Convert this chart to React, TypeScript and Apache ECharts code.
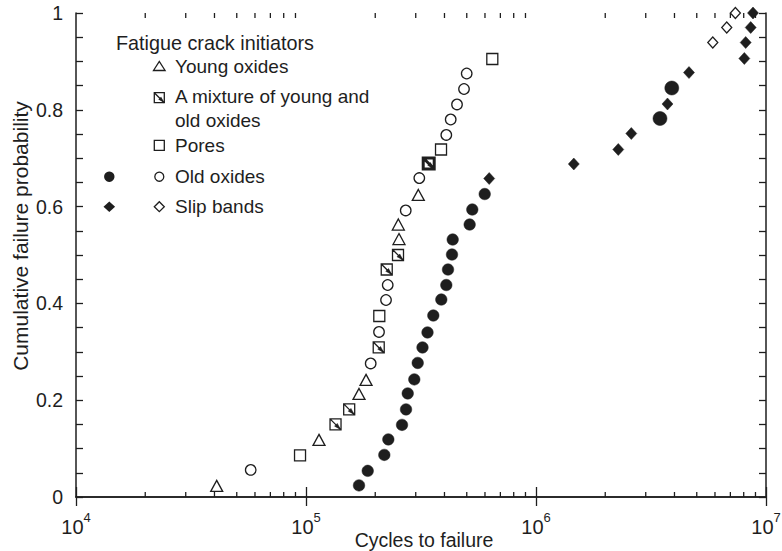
import React, { useEffect, useRef } from 'react';
import * as echarts from 'echarts';

// ---- Data (cycles to failure, cumulative failure probability) ----
const youngOxides: number[][] = [
  [40900, 0.023], [113900, 0.118], [170000, 0.213], [182400, 0.242],
  [253700, 0.533], [252000, 0.563], [307800, 0.624],
];
const mixedOxides: number[][] = [
  [134400, 0.150], [154100, 0.181], [207100, 0.309], [224400, 0.470],
  [251200, 0.500], [341600, 0.689],
];
const boldMixedIndex = 5;
const pores: number[][] = [
  [94200, 0.086], [208300, 0.374], [386400, 0.718], [645700, 0.905],
];
const oldOxidesOpen: number[][] = [
  [57500, 0.056], [191100, 0.276], [207700, 0.341], [222800, 0.407],
  [226600, 0.438], [271400, 0.592], [310900, 0.659], [407400, 0.748],
  [425700, 0.780], [453500, 0.811], [486400, 0.843], [499700, 0.875],
];
const slipBandsOpen: number[][] = [
  [5870000, 0.939], [6750000, 0.970], [7360000, 1.0],
];
const oldOxidesFilled: number[][] = [
  [170000, 0.024], [185500, 0.054], [219000, 0.087], [228000, 0.119],
  [261500, 0.149], [272200, 0.181], [276900, 0.214], [295700, 0.243],
  [306000, 0.277], [321000, 0.309], [337500, 0.340], [357700, 0.375],
  [387500, 0.408], [407400, 0.438], [414400, 0.470], [431300, 0.501],
  [434300, 0.532], [514700, 0.563], [528400, 0.594], [598400, 0.626],
];
const oldOxidesFilledLarge: number[][] = [
  [3460000, 0.782], [3894000, 0.845],
];
const slipBandsFilled: number[][] = [
  [625900, 0.658], [1460000, 0.688], [2279000, 0.718], [2596000, 0.751],
  [3730000, 0.812], [4626000, 0.877], [8050000, 0.906], [8160000, 0.939],
  [8580000, 0.970], [8780000, 1.0],
];

// axis ticks
const xMin = 1e4;
const xMax = 1e7;
const minorMantissas = [2, 3, 4, 5, 6, 7, 8, 9];
const minorDecades = [1e4, 1e5, 1e6];
const yTickInterval = 0.2;

const FONT = '"Liberation Sans", Arial, Helvetica, sans-serif';
const INK = '#1e1e1e';

const minorTickData: number[][] = [];
minorDecades.forEach((d) => minorMantissas.forEach((m) => minorTickData.push([m * d, 0])));

const openStyle = { color: '#ffffff', borderColor: INK, borderWidth: 1.3, opacity: 1 };
const filledStyle = { color: INK, borderColor: INK, borderWidth: 0.5, opacity: 1 };

export default function App() {
  const ref = useRef<HTMLDivElement>(null);
  useEffect(() => {
    const chart = echarts.init(ref.current!, null, { renderer: 'svg' });
    const axisLine = { show: true, lineStyle: { color: INK, width: 1.5 } };
    const tickStyle = { color: INK, width: 1.3 };
    const legendText = (text: string, x: number, y: number, size = 19) => ({
      type: 'text', x, y,
      style: { text, fontFamily: FONT, fontSize: size, fill: INK, verticalAlign: 'middle' },
    });
    const option: any = {
      animation: false,
      backgroundColor: '#ffffff',
      grid: { left: 76, right: 16, top: 13, bottom: 54, containLabel: false, outerBoundsMode: 'none' },
      xAxis: [
        {
          type: 'log', logBase: 10, min: xMin, max: xMax, position: 'bottom',
          axisLine, splitLine: { show: false },
          axisTick: { inside: true, length: 10, lineStyle: tickStyle },
          axisLabel: {
            margin: 14,
            formatter: (v: number) => `{b|10}{s|${Math.round(Math.log10(v))}}`,
            rich: {
              b: { fontFamily: FONT, fontSize: 20, color: INK, lineHeight: 26, verticalAlign: 'bottom' },
              s: { fontFamily: FONT, fontSize: 13, color: INK, lineHeight: 14, verticalAlign: 'top' },
            },
          },
        },
        {
          type: 'log', logBase: 10, min: xMin, max: xMax, position: 'top',
          axisLine, splitLine: { show: false },
          axisTick: { inside: true, length: 9, lineStyle: tickStyle },
          axisLabel: { show: false },
        },
      ],
      yAxis: [
        {
          type: 'value', min: 0, max: 1, interval: yTickInterval,
          axisLine, splitLine: { show: false }, minorSplitLine: { show: false },
          axisTick: { inside: true, length: 7, lineStyle: tickStyle },
          minorTick: { show: true, splitNumber: 4, length: 7, lineStyle: tickStyle },
          axisLabel: {
            margin: 13, fontFamily: FONT, fontSize: 19.5, color: INK,
            formatter: (v: number) => (v === 0 ? '0' : v === 1 ? '1' : v.toFixed(1)),
          },
        },
        {
          type: 'value', min: 0, max: 1, interval: yTickInterval, position: 'right',
          axisLine, splitLine: { show: false }, minorSplitLine: { show: false },
          axisTick: { inside: true, length: 7, lineStyle: tickStyle },
          minorTick: { show: true, splitNumber: 4, length: 7, lineStyle: tickStyle },
          axisLabel: { show: false },
        },
      ],
      series: [
        {
          type: 'custom', name: 'minorTicks', silent: true, clip: false,
          data: minorTickData, encode: { x: 0, y: 1 },
          renderItem: (params: any, api: any) => {
            const v = api.value(0);
            const b = api.coord([v, 0]);
            const t = api.coord([v, 1]);
            return {
              type: 'group',
              children: [
                { type: 'line', shape: { x1: b[0], y1: b[1], x2: b[0], y2: b[1] - 5 }, style: { stroke: INK, lineWidth: 1.3 } },
                { type: 'line', shape: { x1: t[0], y1: t[1], x2: t[0], y2: t[1] + 5 }, style: { stroke: INK, lineWidth: 1.3 } },
              ],
            };
          },
        },
        { type: 'scatter', name: 'Young oxides', data: youngOxides, symbol: 'triangle', symbolSize: [12, 11], itemStyle: openStyle },
        {
          type: 'scatter', name: 'A mixture of young and old oxides',
          data: mixedOxides.map((p, i) => (i === boldMixedIndex
            ? { value: p, itemStyle: { borderWidth: 3 } }
            : p)),
          symbol: 'path://M0,0H10V10H0Z M0,0L10,10', symbolSize: 11, itemStyle: openStyle,
        },
        {
          type: 'scatter', name: 'mixture arrowhead', silent: true,
          data: mixedOxides, symbol: 'path://M10,10L3.5,6.5L6.5,3.5Z',
          symbolSize: 6, symbolOffset: [2, 2], itemStyle: filledStyle,
        },
        { type: 'scatter', name: 'Pores', data: pores, symbol: 'rect', symbolSize: 11, itemStyle: openStyle },
        { type: 'scatter', name: 'Old oxides (open)', data: oldOxidesOpen, symbol: 'circle', symbolSize: 10.5, itemStyle: openStyle },
        { type: 'scatter', name: 'Slip bands (open)', data: slipBandsOpen, symbol: 'diamond', symbolSize: [10, 11], itemStyle: openStyle, clip: false },
        { type: 'scatter', name: 'Old oxides (filled)', data: oldOxidesFilled, symbol: 'circle', symbolSize: 11.5, itemStyle: filledStyle },
        { type: 'scatter', name: 'Old oxides (filled, large)', data: oldOxidesFilledLarge, symbol: 'circle', symbolSize: 14, itemStyle: filledStyle },
        { type: 'scatter', name: 'Slip bands (filled)', data: slipBandsFilled, symbol: 'diamond', symbolSize: [11, 12], itemStyle: filledStyle, clip: false },
      ],
      graphic: [
        {
          type: 'text', x: 20, y: 236, rotation: Math.PI / 2,
          style: { text: 'Cumulative failure probability', fontFamily: FONT, fontSize: 21, fill: INK, align: 'center', verticalAlign: 'middle' },
        },
        {
          type: 'text', x: 424, y: 540,
          style: { text: 'Cycles to failure', fontFamily: FONT, fontSize: 19.5, fill: INK, align: 'center', verticalAlign: 'middle' },
        },
        legendText('Fatigue crack initiators', 116, 43, 19.8),
        legendText('Young oxides', 175, 66.7),
        legendText('A mixture of young and', 175, 96.7),
        legendText('old oxides', 175, 120),
        legendText('Pores', 175, 145.3),
        legendText('Old oxides', 175, 176.7),
        legendText('Slip bands', 175, 206.7),
        { type: 'polygon', shape: { points: [[153.5, 70.5], [165.1, 70.5], [159.3, 61.5]] }, style: { fill: '#fff', stroke: INK, lineWidth: 1.3 } },
        { type: 'rect', shape: { x: 154.3, y: 92.7, width: 10, height: 10 }, style: { fill: '#fff', stroke: INK, lineWidth: 1.3 } },
        { type: 'line', shape: { x1: 154.3, y1: 92.7, x2: 164.3, y2: 102.7 }, style: { stroke: INK, lineWidth: 1.3 } },
        { type: 'polygon', shape: { points: [[164.3, 102.7], [158.3, 99.5], [161.1, 96.7]] }, style: { fill: INK } },
        { type: 'rect', shape: { x: 154.3, y: 140.3, width: 10, height: 10 }, style: { fill: '#fff', stroke: INK, lineWidth: 1.3 } },
        { type: 'circle', shape: { cx: 109.3, cy: 176.7, r: 5.2 }, style: { fill: INK } },
        { type: 'circle', shape: { cx: 159.3, cy: 176.7, r: 4.5 }, style: { fill: '#fff', stroke: INK, lineWidth: 1.3 } },
        { type: 'polygon', shape: { points: [[103.5, 206.7], [109.3, 201.5], [115.1, 206.7], [109.3, 211.9]] }, style: { fill: INK } },
        { type: 'polygon', shape: { points: [[154.3, 206.7], [159.3, 201.7], [164.3, 206.7], [159.3, 211.7]] }, style: { fill: '#fff', stroke: INK, lineWidth: 1.3 } },
      ],
    };
    chart.setOption(option);
    return () => chart.dispose();
  }, []);
  return (
    <div
      ref={ref}
      style={{ position: 'absolute', left: 0, top: 0, width: 782, height: 551, background: '#fff' }}
    />
  );
}
